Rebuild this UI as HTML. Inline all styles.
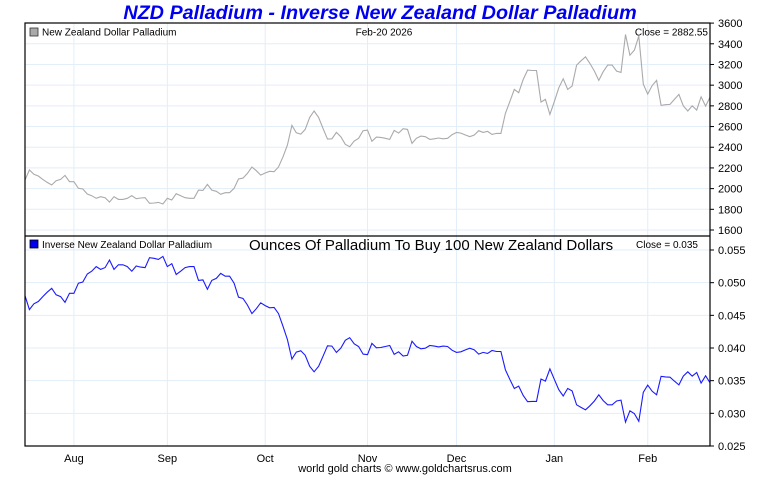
<!DOCTYPE html>
<html><head><meta charset="utf-8"><style>
body{margin:0;background:#fff;}
svg text{font-family:"Liberation Sans",sans-serif;}
</style></head><body>
<svg id="c" width="760" height="475" xmlns="http://www.w3.org/2000/svg">
<text x="380" y="19" text-anchor="middle" font-size="19.8" font-weight="bold" font-style="italic" fill="#0000ee">NZD Palladium - Inverse New Zealand Dollar Palladium</text>
<g id="grid"></g>
<g id="marks"></g>
<rect x="25" y="23" width="685" height="423" fill="none" stroke="#000" stroke-width="1.2"/>
<line x1="25" y1="236" x2="710" y2="236" stroke="#000" stroke-width="1.2"/>
<rect x="30" y="28" width="8" height="8" fill="#aaa" stroke="#333" stroke-width="0.8"/>
<text x="42" y="35.5" font-size="10">New Zealand Dollar Palladium</text>
<text x="384" y="35.5" text-anchor="middle" font-size="10">Feb-20  2026</text>
<text x="708" y="35.5" text-anchor="end" font-size="10">Close = 2882.55</text>
<rect x="30" y="240" width="8" height="8" fill="#0000ee" stroke="#000" stroke-width="0.8"/>
<text x="42" y="248" font-size="10">Inverse New Zealand Dollar Palladium</text>
<text x="249" y="250" font-size="15">Ounces Of Palladium To Buy 100 New Zealand Dollars</text>
<text x="698" y="248" text-anchor="end" font-size="10">Close = 0.035</text>
<text x="405" y="472" text-anchor="middle" font-size="11">world gold charts © www.goldchartsrus.com</text>
</svg>
<script>
const priceValues=[2083,2180,2138,2122,2089,2060,2035,2077,2089,2128,2067,2067,2003,1996,1948,1932,1906,1922,1912,1870,1922,1896,1896,1906,1932,1903,1909,1912,1858,1861,1867,1851,1906,1890,1951,1932,1912,1906,1906,1986,1983,2041,1986,1974,1945,1961,1961,2003,2093,2102,2147,2209,2173,2131,2151,2167,2164,2209,2308,2421,2611,2540,2527,2572,2688,2750,2688,2582,2479,2482,2543,2502,2428,2405,2460,2486,2560,2566,2457,2498,2495,2486,2476,2563,2537,2579,2572,2437,2486,2508,2502,2476,2482,2489,2482,2486,2521,2543,2537,2518,2502,2518,2560,2543,2553,2524,2534,2534,2727,2840,2959,2927,3055,3146,3142,3142,2836,2862,2717,2840,2975,3062,2959,2991,3194,3236,3274,3210,3136,3046,3130,3194,3194,3136,3123,3490,3290,3339,3474,3010,2914,2997,3046,2804,2811,2814,2862,2911,2801,2750,2801,2759,2888,2798,2883];
const inverseValues=priceValues.map(p=>100/p);
const priceTicks=[1600,1800,2000,2200,2400,2600,2800,3000,3200,3400,3600];
const inverseTicks=[0.025,0.030,0.035,0.040,0.045,0.050,0.055];
const monthLabels=["Aug","Sep","Oct","Nov","Dec","Jan","Feb"];
const monthIndex=[11,32,54,77,97,119,140];

const NS="http://www.w3.org/2000/svg";
const X0=25,X1=710;
const xs=i=>X0+i*(X1-X0)/(priceValues.length-1);
const yp=v=>230-(v-1600)*0.10345;
const yi=v=>446-(v-0.025)*6533;
const grid=document.getElementById('grid'),marks=document.getElementById('marks'),svg=document.getElementById('c');
function mk(tag,attrs,parent){const e=document.createElementNS(NS,tag);for(const k in attrs)e.setAttribute(k,attrs[k]);parent.appendChild(e);return e;}
priceTicks.forEach(t=>{const y=yp(t);
 if(t<3600){const g=mk('line',{x1:X0,x2:X1,y1:y,y2:y,stroke:'#e2eef8'},grid);
 
 }
 const tk=mk('line',{x1:X1,x2:X1+4,y1:y,y2:y,stroke:'#000'},svg);
 
 
 const tx=mk('text',{x:718,y:y+4,'font-size':'11'},svg);tx.textContent=t;
 
 
});
inverseTicks.forEach(t=>{const y=yi(t);
 if(t>0.025){const g=mk('line',{x1:X0,x2:X1,y1:y,y2:y,stroke:'#e2eef8'},grid);
 
 }
 const tk=mk('line',{x1:X1,x2:X1+4,y1:y,y2:y,stroke:'#000'},svg);
 
 
 const tx=mk('text',{x:718,y:y+4,'font-size':'11'},svg);tx.textContent=t.toFixed(3);
 
 
});
monthLabels.forEach((m,k)=>{const x=xs(monthIndex[k]);
 const g=mk('line',{x1:x,x2:x,y1:23,y2:446,stroke:'#e2eef8'},grid);
 
 
 const tx=mk('text',{x:x,y:462,'font-size':'11','text-anchor':'middle'},svg);tx.textContent=m;
 
 
});
const p1=mk('polyline',{points:priceValues.map((v,i)=>xs(i).toFixed(1)+','+yp(v).toFixed(1)).join(' '),fill:'none',stroke:'#aaaaaa','stroke-width':'1.1'},marks);


const p2=mk('polyline',{points:inverseValues.map((v,i)=>xs(i).toFixed(1)+','+yi(v).toFixed(1)).join(' '),fill:'none',stroke:'#1a1aff','stroke-width':'1.1'},marks);


</script>
</body></html>
